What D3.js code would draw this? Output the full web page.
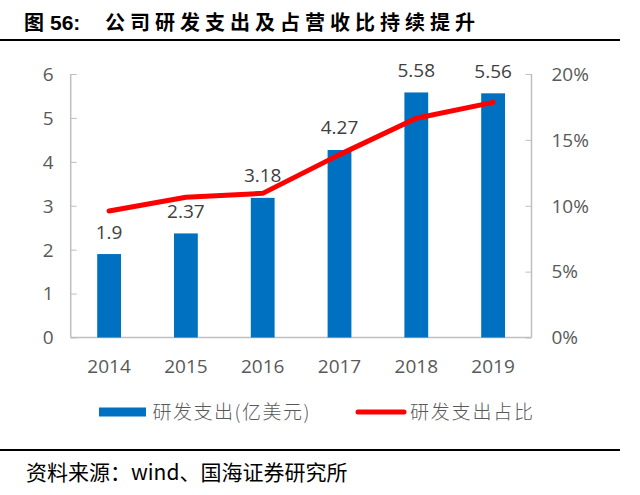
<!DOCTYPE html>
<html>
<head>
<meta charset="utf-8">
<script src="https://cdn.jsdelivr.net/npm/d3@7"></script>
<style>
  html, body { margin: 0; padding: 0; background: #fff; }
  svg { display: block; }
</style>
</head>
<body>
<svg id="chart" width="640" height="495"></svg>
<script>
// chart data
const years = ['2014', '2015', '2016', '2017', '2018', '2019'];
const rdSpend = [1.9, 2.37, 3.18, 4.27, 5.58, 5.56];           // 亿美元
const rdRatio = [9.6, 10.64, 10.94, 13.88, 16.64, 17.85];       // %
const leftTicks = [0, 1, 2, 3, 4, 5, 6];
const rightTicks = [0, 5, 10, 15, 20];

const titleText = '图 56: 公司研发支出及占营收比持续提升';
const sourceText = '资料来源：wind、国海证券研究所';
const legendBar = '研发支出(亿美元)';
const legendLine = '研发支出占比';

const svg = d3.select('#chart');
const grey = '#595959';
const axisGrey = '#bfbfbf';
const numFont = '"Open Sans", "Liberation Sans", sans-serif';
const cjkFont = '"Noto Sans CJK SC", sans-serif';

const plot = { left: 70.7, right: 531.5, top: 74, bottom: 337.5 };

const x = d3.scaleBand()
  .domain(years)
  .range([plot.left, plot.right])
  .paddingInner(0.69)
  .paddingOuter(0.345);
const y = d3.scaleLinear().domain([0, 6]).range([plot.bottom, plot.top]);
const y2 = d3.scaleLinear().domain([0, 20]).range([plot.bottom, plot.top]);

// title
const title = svg.append('text')
  .attr('y', 30)
  .attr('font-family', cjkFont)
  .attr('font-weight', 'bold')
  .attr('font-size', 20)
  .attr('fill', '#000');
const titleParts = titleText.split(' ');
title.append('tspan').attr('x', 24).text(titleParts[0]);
title.append('tspan').attr('x', 50)
  .attr('font-family', '"Liberation Sans", Arial, sans-serif')
  .attr('font-size', 21)
  .text(titleParts[1]);
title.append('tspan').attr('x', 105).attr('letter-spacing', 5).text(titleParts[2]);

svg.append('line')
  .attr('x1', 0).attr('x2', 620)
  .attr('y1', 40).attr('y2', 40)
  .attr('stroke', '#000').attr('stroke-width', 2);

// left axis
const leftAxis = svg.append('g')
  .attr('transform', `translate(${plot.left},0)`)
  .call(d3.axisRight(y).tickValues(leftTicks).tickSize(6).tickFormat(''));
leftAxis.select('.domain').remove();
leftAxis.selectAll('.tick line').attr('stroke', axisGrey);
svg.append('line')
  .attr('x1', plot.left).attr('x2', plot.left)
  .attr('y1', plot.top).attr('y2', plot.bottom)
  .attr('stroke', axisGrey).attr('stroke-width', 1.5);
svg.append('g').selectAll('text')
  .data(leftTicks)
  .join('text')
  .attr('x', 53.5)
  .attr('y', d => y(d))
  .attr('dy', '0.36em')
  .attr('text-anchor', 'end')
  .attr('font-family', numFont)
  .attr('font-size', 19)
  .attr('fill', grey)
  .text(d => d);

// right axis
const rightAxis = svg.append('g')
  .attr('transform', `translate(${plot.right},0)`)
  .call(d3.axisLeft(y2).tickValues(rightTicks).tickSize(6).tickFormat(''));
rightAxis.select('.domain').remove();
rightAxis.selectAll('.tick line').attr('stroke', axisGrey);
svg.append('line')
  .attr('x1', plot.right).attr('x2', plot.right)
  .attr('y1', plot.top).attr('y2', plot.bottom)
  .attr('stroke', axisGrey).attr('stroke-width', 1.5);
svg.append('g').selectAll('text')
  .data(rightTicks)
  .join('text')
  .attr('x', 551.5)
  .attr('y', d => y2(d))
  .attr('dy', '0.36em')
  .attr('font-family', numFont)
  .attr('font-size', 19)
  .attr('fill', grey)
  .text(d => d + '%');

// x axis
svg.append('line')
  .attr('x1', plot.left).attr('x2', plot.right)
  .attr('y1', plot.bottom).attr('y2', plot.bottom)
  .attr('stroke', axisGrey).attr('stroke-width', 1.5);
svg.append('g').selectAll('text')
  .data(years)
  .join('text')
  .attr('x', d => x(d) + x.bandwidth() / 2)
  .attr('y', 372.5)
  .attr('text-anchor', 'middle')
  .attr('font-family', numFont)
  .attr('font-size', 19)
  .attr('fill', grey)
  .text(d => d);

// bars
svg.append('g').selectAll('rect')
  .data(rdSpend)
  .join('rect')
  .attr('x', (d, i) => x(years[i]))
  .attr('y', d => y(d))
  .attr('width', x.bandwidth())
  .attr('height', d => plot.bottom - y(d))
  .attr('fill', '#0070c0');

// bar labels
svg.append('g').selectAll('text')
  .data(rdSpend)
  .join('text')
  .attr('x', (d, i) => x(years[i]) + x.bandwidth() / 2)
  .attr('y', d => y(d) - 15.5)
  .attr('text-anchor', 'middle')
  .attr('font-family', numFont)
  .attr('font-size', 19)
  .attr('fill', '#404040')
  .text(d => d);

// ratio line
const line = d3.line()
  .x((d, i) => x(years[i]) + x.bandwidth() / 2)
  .y(d => y2(d));
svg.append('path')
  .datum(rdRatio)
  .attr('d', line)
  .attr('fill', 'none')
  .attr('stroke', '#ff0000')
  .attr('stroke-width', 5)
  .attr('stroke-linejoin', 'round')
  .attr('stroke-linecap', 'round');

// legend
const legend = svg.append('g');
legend.append('rect')
  .attr('x', 99).attr('y', 407.5)
  .attr('width', 47).attr('height', 9)
  .attr('fill', '#0070c0');
legend.append('text')
  .attr('x', 152.5).attr('y', 412)
  .attr('dy', '0.36em')
  .attr('font-family', cjkFont)
  .attr('font-weight', 300)
  .attr('font-size', 19)
  .attr('letter-spacing', 1.5)
  .attr('fill', grey)
  .text(legendBar);
legend.append('line')
  .attr('x1', 358).attr('x2', 404)
  .attr('y1', 412).attr('y2', 412)
  .attr('stroke', '#ff0000')
  .attr('stroke-width', 5)
  .attr('stroke-linecap', 'round');
legend.append('text')
  .attr('x', 410).attr('y', 412)
  .attr('dy', '0.36em')
  .attr('font-family', cjkFont)
  .attr('font-weight', 300)
  .attr('font-size', 19)
  .attr('letter-spacing', 1.8)
  .attr('fill', grey)
  .text(legendLine);

// source
svg.append('line')
  .attr('x1', 0).attr('x2', 620)
  .attr('y1', 450).attr('y2', 450)
  .attr('stroke', '#000').attr('stroke-width', 2);
svg.append('text')
  .attr('x', 26).attr('y', 472)
  .attr('dy', '0.36em')
  .attr('font-family', cjkFont)
  .attr('font-size', 21)
  .attr('fill', '#000')
  .text(sourceText);
</script>
</body>
</html>
